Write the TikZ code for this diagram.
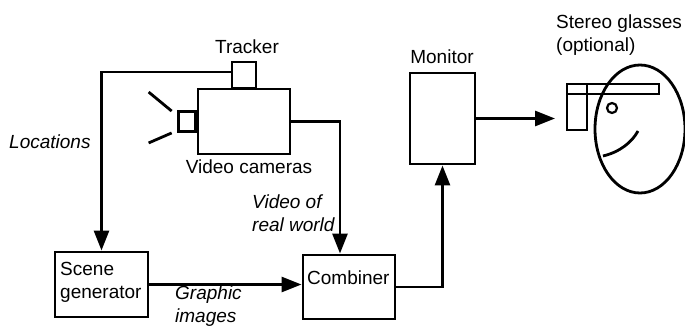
\documentclass[tikz,border=0pt]{standalone}
\usepackage{fontspec}
\setmainfont{Liberation Sans}
\usetikzlibrary{arrows.meta,positioning}
\tikzset{
  box/.style={draw,line width=2.9pt,inner sep=0pt},
  lbl/.style={inner sep=0pt,align=left,font=\fontsize{19}{23}\selectfont},
  ilbl/.style={lbl,font=\fontsize{19}{23}\selectfont\itshape},
  wire/.style={line width=2.8pt},
  feed/.style={wire,-{Triangle[length=20pt,width=15pt]}}
}
\begin{document}
\begin{tikzpicture}[x=1pt,y=-1pt]
  \useasboundingbox (0,0) rectangle (685,326);
  % camera rig with tracker on top
  \node[box,minimum width=24pt,minimum height=26pt] (tracker) at (244,75) {};
  \node[box,minimum width=92pt,minimum height=65pt] (camera) at (244,121.5) {};
  \node[box,minimum width=17pt,minimum height=20pt,anchor=east] (lens) at (camera.west) {};
  \draw[wire] ([xshift=-5pt,yshift=-1pt]lens.north west) -- ++(-23,-19);
  \draw[wire] ([xshift=-5pt]lens.south west) -- ++(-23,10);
  \node[lbl] (trackerlbl) at (247,47) {Tracker};
  \node[lbl] (cameralbl) at (249,167) {Video cameras};
  % blocks
  \node[box,minimum width=93pt,minimum height=65pt] (scene) at (101.5,284.5) {};
  \node[lbl,anchor=north west] (scenelbl) at (60,262) {Scene\\generator};
  \node[box,minimum width=92pt,minimum height=64pt] (combiner) at (349,287) {};
  \node[lbl,anchor=north west] (combinerlbl) at (307,271) {Combiner};
  \node[box,minimum width=65pt,minimum height=91pt] (monitor) at (442.5,118.5) {};
  \node[lbl] (monitorlbl) at (442,57) {Monitor};
  % head with glasses
  \coordinate (glasses) at (555,118.5);
  \draw[wire] (567,84) rectangle (659,94);
  \draw[wire] (567,84) rectangle (587,130);
  \draw[wire] (640,129) ellipse [x radius=45pt,y radius=64pt];
  \draw[line width=2.2pt] (612,108) circle [radius=5pt];
  \draw[wire] (603,156) .. controls (620,152) and (632,142) .. (638,131);
  \node[lbl,anchor=north west] (glasseslbl) at (556,15) {Stereo glasses\\(optional)};
  % signal paths
  \draw[feed] ([yshift=3pt]tracker.west) -| (scene.north);
  \draw[feed] (camera.east) -| ([xshift=-9pt]combiner.north);
  \draw[feed] (scene.east) -- (scene.east -| combiner.west);
  \draw[feed] (combiner.east) -| (monitor.south);
  \draw[feed] (monitor.east) -- (glasses);
  \node[ilbl,anchor=west] (loclbl) at (9,142) {Locations};
  \node[ilbl,anchor=north west] (videolbl) at (252,195) {Video of\\real world};
  \node[ilbl,anchor=north west] (graphiclbl) at (175,286) {Graphic\\images};
\end{tikzpicture}
\end{document}
